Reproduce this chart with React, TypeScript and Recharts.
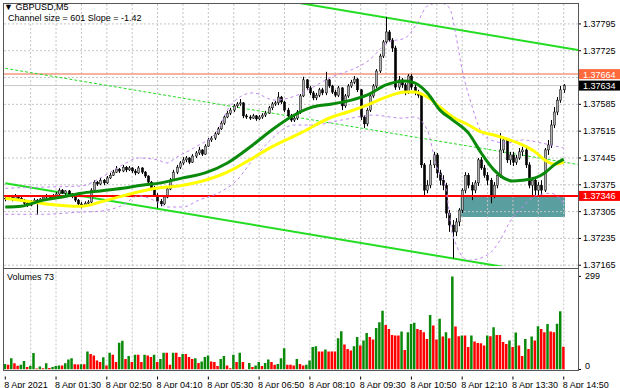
import React from "react";
import {
  ComposedChart,
  Bar,
  Line,
  XAxis,
  YAxis,
  ReferenceLine,
  ReferenceArea,
  Cell,
} from "recharts";

const FONT = "'Liberation Sans', Arial, sans-serif";

// GBPUSD M5, 8 Apr 2021 00:10 .. 14:50, [open, high, low, close]
const candles: [number, number, number, number][] = [
  [1.37338, 1.37346, 1.37332, 1.3734], [1.3734, 1.37348, 1.37335, 1.37343], [1.37343, 1.37346, 1.37332, 1.37338],
  [1.37338, 1.37351, 1.37335, 1.37346], [1.37346, 1.37348, 1.37335, 1.3734], [1.3734, 1.37343, 1.3733, 1.37335],
  [1.37335, 1.37338, 1.37322, 1.37327], [1.37327, 1.3733, 1.37317, 1.37322], [1.37322, 1.37335, 1.37319, 1.3733],
  [1.3733, 1.3734, 1.37327, 1.37335], [1.37335, 1.37338, 1.37296, 1.37327], [1.37327, 1.3734, 1.37325, 1.37338],
  [1.37338, 1.37348, 1.37335, 1.37343], [1.37343, 1.37351, 1.37338, 1.37346], [1.37346, 1.37348, 1.37335, 1.3734],
  [1.3734, 1.37351, 1.37338, 1.37346], [1.37346, 1.37356, 1.37343, 1.37351], [1.37351, 1.37366, 1.37348, 1.37361],
  [1.37361, 1.37364, 1.37351, 1.37353], [1.37353, 1.37361, 1.37348, 1.37359], [1.37359, 1.37361, 1.37346, 1.37351],
  [1.37351, 1.37353, 1.3734, 1.37346], [1.37346, 1.37348, 1.3733, 1.37335], [1.37335, 1.37338, 1.37319, 1.37325],
  [1.37325, 1.3733, 1.37314, 1.37319], [1.37319, 1.37332, 1.37317, 1.37327], [1.37327, 1.37335, 1.37322, 1.3733],
  [1.3733, 1.37366, 1.37327, 1.37361], [1.37361, 1.37387, 1.37359, 1.37382], [1.37382, 1.37385, 1.37372, 1.37377],
  [1.37377, 1.37393, 1.37374, 1.37387], [1.37387, 1.3739, 1.37374, 1.3738], [1.3738, 1.37398, 1.37377, 1.37393],
  [1.37393, 1.37406, 1.3739, 1.374], [1.374, 1.37414, 1.37398, 1.37408], [1.37408, 1.37424, 1.37406, 1.37416],
  [1.37416, 1.37419, 1.37406, 1.37411], [1.37411, 1.37427, 1.37408, 1.37421], [1.37421, 1.37424, 1.37408, 1.37414],
  [1.37414, 1.37424, 1.37411, 1.37419], [1.37419, 1.37421, 1.37406, 1.37411], [1.37411, 1.37416, 1.374, 1.37406],
  [1.37406, 1.37424, 1.37403, 1.37419], [1.37419, 1.37421, 1.37403, 1.37408], [1.37408, 1.37411, 1.37393, 1.37398],
  [1.37398, 1.374, 1.37377, 1.37382], [1.37382, 1.37385, 1.37361, 1.37366], [1.37366, 1.37372, 1.37343, 1.37348],
  [1.37348, 1.37353, 1.37314, 1.37332], [1.37332, 1.37338, 1.37319, 1.37325], [1.37325, 1.37346, 1.37322, 1.37343],
  [1.37343, 1.37369, 1.3734, 1.37364], [1.37364, 1.37393, 1.37361, 1.37387], [1.37387, 1.37414, 1.37385, 1.37408],
  [1.37408, 1.37427, 1.37403, 1.37421], [1.37421, 1.37437, 1.37416, 1.37432], [1.37432, 1.37447, 1.37427, 1.3744],
  [1.3744, 1.3745, 1.37434, 1.37445], [1.37445, 1.37447, 1.37429, 1.37434], [1.37434, 1.37455, 1.37432, 1.3745],
  [1.3745, 1.37463, 1.37445, 1.37458], [1.37458, 1.37474, 1.37453, 1.37466], [1.37466, 1.37468, 1.3745, 1.37455],
  [1.37455, 1.37481, 1.37453, 1.37476], [1.37476, 1.37497, 1.37474, 1.37492], [1.37492, 1.37502, 1.37487, 1.37497],
  [1.37497, 1.37513, 1.37492, 1.37508], [1.37508, 1.37526, 1.37505, 1.37521], [1.37521, 1.37542, 1.37518, 1.37536],
  [1.37536, 1.37557, 1.37531, 1.37552], [1.37552, 1.37568, 1.37549, 1.37562], [1.37562, 1.37576, 1.37557, 1.3757],
  [1.3757, 1.37586, 1.37565, 1.37581], [1.37581, 1.37591, 1.37576, 1.37586], [1.37586, 1.37599, 1.37581, 1.37589],
  [1.37589, 1.37591, 1.37549, 1.37555], [1.37555, 1.3756, 1.37547, 1.37552], [1.37552, 1.37557, 1.37544, 1.37549],
  [1.37549, 1.3756, 1.37547, 1.37555], [1.37555, 1.37557, 1.37542, 1.37547], [1.37547, 1.37557, 1.37544, 1.37552],
  [1.37552, 1.37562, 1.37547, 1.37557], [1.37557, 1.37568, 1.37552, 1.37562], [1.37562, 1.37581, 1.3756, 1.37576],
  [1.37576, 1.37591, 1.3757, 1.37586], [1.37586, 1.37594, 1.37581, 1.37589], [1.37589, 1.37617, 1.37583, 1.37604],
  [1.37604, 1.37607, 1.37586, 1.37591], [1.37591, 1.37594, 1.37565, 1.3757], [1.3757, 1.37576, 1.37549, 1.37555],
  [1.37555, 1.3756, 1.37539, 1.37544], [1.37544, 1.37555, 1.37539, 1.37549], [1.37549, 1.3757, 1.37544, 1.37565],
  [1.37565, 1.37612, 1.3756, 1.37607], [1.37607, 1.37657, 1.37604, 1.37649], [1.37649, 1.37651, 1.37623, 1.37628],
  [1.37628, 1.37633, 1.37609, 1.37615], [1.37615, 1.3762, 1.37596, 1.37602], [1.37602, 1.37615, 1.37596, 1.37609],
  [1.37609, 1.37628, 1.37604, 1.37623], [1.37623, 1.37628, 1.37609, 1.37615], [1.37615, 1.3767, 1.37609, 1.37649],
  [1.37649, 1.37651, 1.37628, 1.37633], [1.37633, 1.37636, 1.37612, 1.37617], [1.37617, 1.37623, 1.37604, 1.37609],
  [1.37609, 1.37633, 1.37604, 1.37628], [1.37628, 1.3763, 1.3757, 1.37581], [1.37581, 1.37612, 1.37576, 1.37607],
  [1.37607, 1.37638, 1.37602, 1.37633], [1.37633, 1.37649, 1.37628, 1.37643], [1.37643, 1.37659, 1.37638, 1.37651],
  [1.37651, 1.37654, 1.37617, 1.37623], [1.37623, 1.37625, 1.37544, 1.37552], [1.37552, 1.37557, 1.37523, 1.37534],
  [1.37534, 1.37576, 1.37528, 1.3757], [1.3757, 1.37612, 1.37565, 1.37607], [1.37607, 1.37638, 1.37602, 1.37633],
  [1.37633, 1.37677, 1.37628, 1.37672], [1.37672, 1.37717, 1.37667, 1.37711], [1.37711, 1.37753, 1.37706, 1.37748],
  [1.37748, 1.37813, 1.37743, 1.37774], [1.37774, 1.37779, 1.37748, 1.37753], [1.37753, 1.37758, 1.37722, 1.37732],
  [1.37732, 1.37738, 1.37623, 1.3763], [1.3763, 1.37659, 1.37623, 1.37649], [1.37649, 1.37654, 1.37628, 1.37636],
  [1.37636, 1.37641, 1.37609, 1.37617], [1.37617, 1.37664, 1.37612, 1.37659], [1.37659, 1.37664, 1.37623, 1.3763],
  [1.3763, 1.37636, 1.37609, 1.37617], [1.37617, 1.37623, 1.37602, 1.37609], [1.37609, 1.37615, 1.37419, 1.37427],
  [1.37427, 1.37432, 1.37346, 1.37361], [1.37361, 1.37387, 1.37353, 1.37374], [1.37374, 1.3744, 1.37366, 1.37427],
  [1.37427, 1.37461, 1.37419, 1.37453], [1.37453, 1.37458, 1.37393, 1.37406], [1.37406, 1.37414, 1.37374, 1.37387],
  [1.37387, 1.374, 1.37361, 1.37374], [1.37374, 1.3738, 1.37288, 1.37301], [1.37301, 1.37309, 1.37252, 1.3727],
  [1.3727, 1.37283, 1.37183, 1.37252], [1.37252, 1.37288, 1.37241, 1.37278], [1.37278, 1.37314, 1.37267, 1.37309],
  [1.37309, 1.37366, 1.37301, 1.37361], [1.37361, 1.37408, 1.37353, 1.374], [1.374, 1.37406, 1.37366, 1.37374],
  [1.37374, 1.37382, 1.37335, 1.37361], [1.37361, 1.37387, 1.37353, 1.3738], [1.3738, 1.37445, 1.37372, 1.3744],
  [1.3744, 1.37447, 1.37414, 1.37419], [1.37419, 1.37427, 1.37393, 1.374], [1.374, 1.37408, 1.37374, 1.37387],
  [1.37387, 1.37393, 1.37327, 1.37348], [1.37348, 1.37382, 1.3734, 1.37374], [1.37374, 1.37408, 1.37366, 1.374],
  [1.374, 1.3751, 1.37393, 1.37466], [1.37466, 1.375, 1.37458, 1.37492], [1.37492, 1.37497, 1.37432, 1.3744],
  [1.3744, 1.37461, 1.37427, 1.37453], [1.37453, 1.37461, 1.37424, 1.37434], [1.37434, 1.37453, 1.37427, 1.37445],
  [1.37445, 1.37471, 1.3744, 1.37461], [1.37461, 1.37474, 1.3745, 1.37466], [1.37466, 1.37471, 1.37419, 1.37427],
  [1.37427, 1.37434, 1.37366, 1.37374], [1.37374, 1.37395, 1.37343, 1.37387], [1.37387, 1.37393, 1.37343, 1.37361],
  [1.37361, 1.37382, 1.37343, 1.37374], [1.37374, 1.37387, 1.37343, 1.37361], [1.37361, 1.37471, 1.37356, 1.37466],
  [1.37466, 1.37492, 1.37453, 1.37479], [1.37479, 1.37544, 1.37471, 1.37531], [1.37531, 1.37578, 1.37523, 1.37565],
  [1.37565, 1.37604, 1.37557, 1.37596], [1.37596, 1.37633, 1.37589, 1.37623], [1.37623, 1.37638, 1.37615, 1.37634],
];

// tick volumes per bar
const volumes: number[] = [
  18, 15, 36, 20, 12, 15, 27, 8, 12, 53, 3, 10,
  4, 20, 5, 8, 11, 13, 13, 20, 32, 36, 17, 16, 17,
  17, 58, 50, 45, 29, 24, 39, 13, 54, 47, 24, 86, 92, 34, 43, 24,
  47, 47, 24, 47, 45, 40, 47, 24, 34, 54, 54, 15, 54, 54, 40, 50,
  50, 40, 34, 36, 21, 26, 40, 45, 26, 24, 11, 34, 43, 13, 4, 47, 24,
  54, 24, 2, 21, 8, 13, 24, 11, 21, 32, 24, 15, 18, 36, 68, 15,
  15, 13, 34, 18, 13, 15, 29, 72, 75, 58, 58, 64, 58, 58, 58, 100,
  123, 80, 66, 61, 75, 104, 77, 93, 117, 104, 96, 133, 152, 189, 143, 130, 111, 109, 109, 122, 63,
  120, 146, 150, 130, 127, 120, 98, 175, 141, 96, 163, 106, 120, 100,
  299,
  138, 107, 109, 109, 72, 109, 90, 85, 84, 77, 109, 107, 136, 111, 111, 88, 82, 93, 72, 119,
  77, 43, 98, 66, 106, 93, 139, 130, 120, 146, 122, 120, 147, 187, 73,
];

// indicator lines: [bar, price]
const fastMa: [number, number][] = [
  [0, 1.37317], [5, 1.37319], [12, 1.37335], [18, 1.37343], [24, 1.37353], [30, 1.37359], [37, 1.37366],
  [43, 1.37374], [49, 1.3738], [56, 1.37393], [63, 1.37406], [70, 1.37432], [78, 1.37479], [84, 1.37518],
  [90, 1.37552], [96, 1.37576], [103, 1.37586], [109, 1.37596], [114, 1.37609], [120, 1.37636], [123, 1.37643],
  [126, 1.37646], [129, 1.37641], [133, 1.37615], [137, 1.3757], [141, 1.37544], [146, 1.3751], [150, 1.37458],
  [154, 1.37414], [157, 1.37393], [160, 1.37385], [163, 1.37387], [167, 1.37393], [170, 1.37406], [173, 1.37427],
  [176, 1.37442],
];
const slowMa: [number, number][] = [
  [0, 1.3734], [7, 1.37332], [13, 1.37325], [24, 1.37319], [30, 1.3733], [37, 1.37346], [46, 1.37364],
  [56, 1.37374], [63, 1.37387], [70, 1.37408], [77, 1.3744], [84, 1.37474], [93, 1.3751], [103, 1.37552],
  [108, 1.37565], [114, 1.37583], [120, 1.37604], [126, 1.37617], [129, 1.37617], [133, 1.37604], [137, 1.37578],
  [141, 1.37552], [146, 1.37531], [150, 1.37513], [154, 1.37505], [159, 1.37492], [163, 1.37479], [167, 1.37461],
  [170, 1.3744], [173, 1.37429], [176, 1.37434],
];
const bandUpper: [number, number][] = [
  [0, 1.37366], [12, 1.37369], [24, 1.37372], [30, 1.37393], [37, 1.37427], [42, 1.37445], [48, 1.3744],
  [51, 1.37432], [54, 1.37447], [60, 1.37474], [67, 1.37518], [71, 1.37583], [78, 1.37615], [85, 1.37596],
  [92, 1.37609], [97, 1.3763], [103, 1.37657], [109, 1.37675], [114, 1.37696], [121, 1.37748], [126, 1.37758],
  [130, 1.378], [133, 1.37842], [137, 1.3785], [140, 1.37837], [142, 1.37766], [144, 1.37675], [147, 1.37583],
  [150, 1.37513], [153, 1.37492], [158, 1.37484], [163, 1.37492], [169, 1.37484], [176, 1.37471],
];
const bandLower: [number, number][] = [
  [0, 1.37298], [12, 1.37298], [24, 1.37304], [30, 1.37306], [37, 1.37322], [42, 1.37346], [48, 1.3733],
  [51, 1.37317], [56, 1.37317], [61, 1.37335], [67, 1.37353], [73, 1.37387], [78, 1.3744], [83, 1.37487],
  [91, 1.37531], [97, 1.37531], [106, 1.37544], [116, 1.37557], [125, 1.37549], [129, 1.37552], [133, 1.37518],
  [136, 1.37421], [139, 1.37361], [140, 1.37296], [141, 1.37244], [146, 1.37178], [152, 1.37192], [156, 1.37231],
  [159, 1.37278], [163, 1.37317], [167, 1.37346], [172, 1.37353], [176, 1.37327],
];

// regression channel ends: [bar, price]
const channelUpper: [number, number][] = [[0, 1.37979], [180.5, 1.37727]];
const channelMid: [number, number][] = [[0, 1.37679], [180.5, 1.37428]];
const channelLower: [number, number][] = [[0, 1.37379], [180.5, 1.37128]];

const supportLevel = 1.37346;
const resistanceLevel = 1.37664;
const lastPrice = 1.37634;
const zoneBars = [143.5, 176.4];
const zonePrices = [1.37291, 1.37346];

const gridPrices = [1.37165, 1.37235, 1.37305, 1.37375, 1.37445, 1.37515, 1.37585, 1.37655, 1.37725, 1.37795];
const axisPrices = [1.37165, 1.37235, 1.37305, 1.37375, 1.37445, 1.37515, 1.37585, 1.37725, 1.37795];
const timeLabels = [
  "8 Apr 2021", "8 Apr 01:30", "8 Apr 02:50", "8 Apr 04:10", "8 Apr 05:30", "8 Apr 06:50",
  "8 Apr 08:10", "8 Apr 09:30", "8 Apr 10:50", "8 Apr 12:10", "8 Apr 13:30", "8 Apr 14:50",
];
const timeLabelBars = [0, 16, 32, 48, 64, 80, 96, 112, 128, 144, 160, 176];
const gridBars = Array.from({ length: 22 }, (_, k) => 8 * (k + 1));

const X_DOMAIN: [number, number] = [-0.4, 180.5];
const PRICE_DOMAIN: [number, number] = [1.37163, 1.37847];
const GRID = "#c4c4c4";

const toMap = (pts: [number, number][]) => new Map(pts.map(([i, v]) => [i, v]));
const fastMap = toMap(fastMa);
const slowMap = toMap(slowMa);
const upMap = toMap(bandUpper);
const loMap = toMap(bandLower);

const priceRows = candles.map(([o, h, l, c], i) => ({
  i, o, h, l, c,
  range: [l, h],
  fast: fastMap.get(i),
  slow: slowMap.get(i),
  bbUp: upMap.get(i),
  bbLo: loMap.get(i),
}));

const volRows = volumes.map((v, i) => ({ i, v, rising: i === 0 || v > volumes[i - 1] }));

function Candle(props: any) {
  const { x, y, width, height, payload } = props;
  if (x == null || y == null) return null;
  const { o, h, l, c } = payload;
  const cx = Math.round(x + width / 2) + 0.5;
  const span = h - l || 1e-9;
  const py = (p: number) => y + ((h - p) / span) * height;
  const top = py(Math.max(o, c));
  const bot = py(Math.min(o, c));
  const up = c >= o;
  return (
    <g>
      <line x1={cx} x2={cx} y1={y} y2={y + height} stroke="#000" strokeWidth={1} />
      <rect
        x={cx - 1.1}
        y={top}
        width={2.2}
        height={Math.max(bot - top, 0.8)}
        fill={up ? "#b0b0b0" : "#000"}
        stroke="#000"
        strokeWidth={0.5}
      />
    </g>
  );
}

function PriceTick(props: any) {
  const { y, payload } = props;
  return (
    <g>
      <line x1={578} x2={581} y1={y} y2={y} stroke="#000" />
      <text x={583} y={y + 3} fontSize={9} fontFamily={FONT} fill="#000">
        {payload.value.toFixed(5)}
      </text>
    </g>
  );
}

function PriceTag(props: any) {
  const { viewBox, text, bg } = props;
  if (!viewBox) return null;
  const right = viewBox.x + viewBox.width;
  return (
    <g>
      <rect x={right + 1} y={viewBox.y - 5} width={41} height={10} fill={bg} />
      <text x={right + 5} y={viewBox.y + 3.5} fontSize={9} fontFamily={FONT} fill="#fff">
        {text}
      </text>
    </g>
  );
}

function TimeTick(props: any) {
  const { x, y, payload } = props;
  const k = timeLabelBars.indexOf(payload.value);
  return (
    <g>
      <line x1={x} x2={x} y1={y - 1} y2={y + 2} stroke="#000" />
      <text x={Math.max(x - 1, 3)} y={y + 10} fontSize={9} fontFamily={FONT} fill="#000">
        {timeLabels[k]}
      </text>
    </g>
  );
}

function VolTick(props: any) {
  const { y, payload } = props;
  const dy = payload.value === 0 ? -1 : 3;
  return (
    <g>
      <line x1={578} x2={581} y1={y} y2={y} stroke="#000" />
      <text x={585} y={y + dy} fontSize={9} fontFamily={FONT} fill="#000">
        {payload.value}
      </text>
    </g>
  );
}

const frame = (top: number, height: number): React.CSSProperties => ({
  position: "absolute",
  left: 3,
  top,
  width: 574,
  height,
  border: "1px solid #555",
  pointerEvents: "none",
});

const label = (left: number, top: number): React.CSSProperties => ({
  position: "absolute",
  left,
  top,
  fontSize: 9,
  fontFamily: FONT,
  color: "#000",
  lineHeight: "10px",
  whiteSpace: "nowrap",
});

export default function App() {
  return (
    <div style={{ position: "relative", width: 620, height: 388, background: "#fff", overflow: "hidden" }}>
      <style>{"body{margin:0}"}</style>
      <div style={{ position: "absolute", left: 0, top: 0 }}>
        <ComposedChart width={620} height={270} data={priceRows} margin={{ top: 4, right: 0, left: 4, bottom: 4 }}>
          <XAxis type="number" dataKey="i" domain={X_DOMAIN} allowDataOverflow hide />
          <YAxis
            orientation="right"
            width={42}
            domain={PRICE_DOMAIN}
            allowDataOverflow
            ticks={axisPrices}
            interval={0}
            tick={<PriceTick />}
            tickLine={false}
            axisLine={false}
          />
          <ReferenceArea
            x1={zoneBars[0]}
            x2={zoneBars[1]}
            y1={zonePrices[0]}
            y2={zonePrices[1]}
            fill="#5b9ea0"
            fillOpacity={1}
            stroke="none"
            ifOverflow="hidden"
            zIndex={-90}
          />
          {gridPrices.map((p) => (
            <ReferenceLine key={`gp${p}`} y={p} stroke={GRID} strokeDasharray="2 2" zIndex={-80} />
          ))}
          {gridBars.map((b) => (
            <ReferenceLine key={`gb${b}`} x={b} stroke={GRID} strokeDasharray="2 2" zIndex={-80} />
          ))}
          <ReferenceLine y={lastPrice} stroke="#c8c8c8" strokeWidth={1} zIndex={-70} />
          <ReferenceLine y={resistanceLevel} stroke="#f59a80" strokeWidth={1.5} zIndex={-70} />
          <ReferenceLine
            segment={[{ x: channelMid[0][0], y: channelMid[0][1] }, { x: channelMid[1][0], y: channelMid[1][1] }]}
            stroke="#22dd22"
            strokeDasharray="3 2"
            ifOverflow="hidden"
            zIndex={-60}
          />
          <ReferenceLine
            segment={[{ x: channelUpper[0][0], y: channelUpper[0][1] }, { x: channelUpper[1][0], y: channelUpper[1][1] }]}
            stroke="#22dd22"
            strokeWidth={2}
            ifOverflow="hidden"
            zIndex={-60}
          />
          <ReferenceLine
            segment={[{ x: channelLower[0][0], y: channelLower[0][1] }, { x: channelLower[1][0], y: channelLower[1][1] }]}
            stroke="#22dd22"
            strokeWidth={2}
            ifOverflow="hidden"
            zIndex={-60}
          />
          <Bar dataKey="range" barSize={3} shape={<Candle />} isAnimationActive={false} />
          <ReferenceLine y={supportLevel} stroke="#ff0000" strokeWidth={2} />
          <Line dataKey="bbUp" type="monotone" connectNulls dot={false} stroke="#bf88ee" strokeWidth={1} strokeDasharray="3 3" isAnimationActive={false} />
          <Line dataKey="bbLo" type="monotone" connectNulls dot={false} stroke="#bf88ee" strokeWidth={1} strokeDasharray="3 3" isAnimationActive={false} />
          <Line dataKey="slow" type="monotone" connectNulls dot={false} stroke="#ffff00" strokeWidth={3} isAnimationActive={false} />
          <Line dataKey="fast" type="monotone" connectNulls dot={false} stroke="#0a8a0a" strokeWidth={3} isAnimationActive={false} />
          <ReferenceLine y={resistanceLevel} stroke="none" label={<PriceTag text="1.37664" bg="#ff6a3d" />} zIndex={900} />
          <ReferenceLine y={lastPrice} stroke="none" label={<PriceTag text="1.37634" bg="#000" />} zIndex={900} />
          <ReferenceLine y={supportLevel} stroke="none" label={<PriceTag text="1.37346" bg="#ff0000" />} zIndex={900} />
        </ComposedChart>
      </div>
      <div style={{ position: "absolute", left: 0, top: 268 }}>
        <ComposedChart width={620} height={120} data={volRows} margin={{ top: 0, right: 0, left: 4, bottom: 0 }}>
          <XAxis
            type="number"
            dataKey="i"
            domain={X_DOMAIN}
            allowDataOverflow
            ticks={timeLabelBars}
            interval={0}
            height={18.5}
            tick={<TimeTick />}
            tickLine={false}
            axisLine={false}
          />
          <YAxis
            orientation="right"
            width={42}
            domain={[0, 326]}
            allowDataOverflow
            ticks={[0, 299]}
            interval={0}
            tick={<VolTick />}
            tickLine={false}
            axisLine={false}
          />
          {gridBars.map((b) => (
            <ReferenceLine key={`vb${b}`} x={b} stroke={GRID} strokeDasharray="2 2" zIndex={-80} />
          ))}
          <Bar dataKey="v" barSize={2.5} isAnimationActive={false}>
            {volRows.map((r) => (
              <Cell key={r.i} fill={r.rising ? "#0a8a0a" : "#ff0000"} />
            ))}
          </Bar>
        </ComposedChart>
      </div>
      <div style={frame(3, 264)} />
      <div style={frame(268, 101)} />
      <div style={label(4, 2)}>▼ GBPUSD,M5</div>
      <div style={label(8, 13)}>Channel size = 601 Slope = -1.42</div>
      <div style={label(7, 272)}>Volumes 73</div>
    </div>
  );
}
